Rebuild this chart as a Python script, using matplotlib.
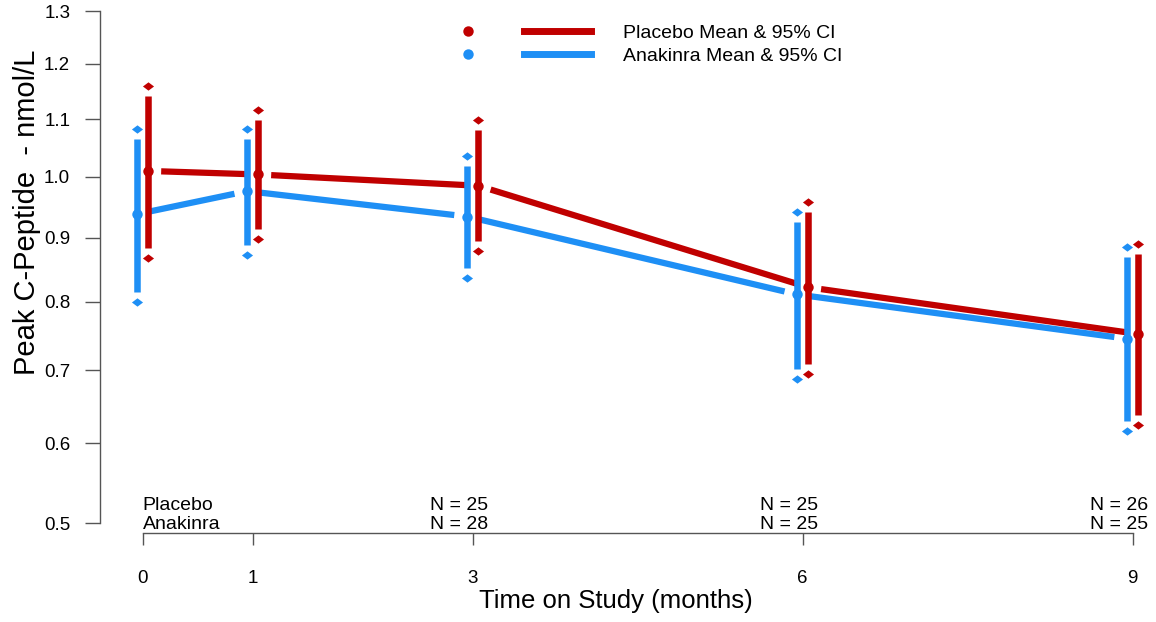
import matplotlib
matplotlib.use('Agg')
import matplotlib.pyplot as plt
import numpy as np
from matplotlib.lines import Line2D
from matplotlib.path import Path
from matplotlib.legend_handler import HandlerTuple

plt.rcParams['font.family'] = ['Liberation Sans', 'DejaVu Sans']

months        = [0, 1, 3, 6, 9]
placebo_mean  = [1.010, 1.004, 0.985, 0.822, 0.752]
placebo_lo    = [0.868, 0.898, 0.879, 0.694, 0.624]
placebo_hi    = [1.160, 1.117, 1.099, 0.958, 0.890]
anakinra_mean = [0.938, 0.976, 0.934, 0.811, 0.745]
anakinra_lo   = [0.799, 0.873, 0.837, 0.687, 0.616]
anakinra_hi   = [1.083, 1.082, 1.036, 0.942, 0.885]
placebo_n     = [None, None, 25, 25, 26]
anakinra_n    = [None, None, 28, 25, 25]
y_ticks       = [0.5, 0.6, 0.7, 0.8, 0.9, 1.0, 1.1, 1.2, 1.3]

RED  = '#C00000'
BLUE = '#1E8FF5'
OFFSET = 0.05      # months, side-by-side dodge
LINE_GAP = 13      # px gap between connecting line and mean point
BAR_GAP = 10       # px gap between CI bar end and diamond

DIAMOND = Path([(-1, 0), (0, 0.75), (1, 0), (0, -0.75), (-1, 0)],
               [Path.MOVETO, Path.LINETO, Path.LINETO, Path.LINETO, Path.CLOSEPOLY])

fig = plt.figure(figsize=(11.56, 6.22), dpi=100)
ax = fig.add_axes([100 / 1156, 1 - 533 / 622, 1050 / 1156, 525 / 622])
ax.set_yscale('function', functions=(np.sqrt, np.square))
ax.set_xlim(-0.388, 9.157)
ax.set_ylim(0.4885, 1.3058)


def to_px(x, y):
    return ax.transData.transform(np.column_stack([x, y]))


def to_data(p):
    return ax.transData.inverted().transform(p)


def draw_series(x, mean, lo, hi, color, z):
    x = np.asarray(x, float)
    pts = to_px(x, mean)
    # connecting line, broken around each point (R type = "b")
    for a, b in zip(pts[:-1], pts[1:]):
        u = (b - a) / np.hypot(*(b - a))
        seg = to_data(np.array([a + u * LINE_GAP, b - u * LINE_GAP]))
        ax.plot(seg[:, 0], seg[:, 1], color=color, lw=4.5,
                solid_capstyle='butt', zorder=z)
    # CI bars, stopping short of the diamond ends
    top_d = to_data(to_px(x, hi) + [0, -BAR_GAP])
    bot_d = to_data(to_px(x, lo) + [0, BAR_GAP])
    for xi, y0, y1 in zip(x, bot_d[:, 1], top_d[:, 1]):
        ax.plot([xi, xi], [y0, y1], color=color, lw=4.7,
                solid_capstyle='butt', zorder=z + 1)
    ax.plot(x, hi, ls='none', marker=DIAMOND, ms=8, color=color, mec='none', zorder=z + 2)
    ax.plot(x, lo, ls='none', marker=DIAMOND, ms=8, color=color, mec='none', zorder=z + 2)
    ax.plot(x, mean, ls='none', marker='o', ms=7.5, color=color, mec='none', zorder=z + 2)


draw_series(np.array(months) - OFFSET, anakinra_mean, anakinra_lo, anakinra_hi, BLUE, 2)
draw_series(np.array(months) + OFFSET, placebo_mean, placebo_lo, placebo_hi, RED, 2)

# R-style detached axes
for side in ['top', 'right']:
    ax.spines[side].set_visible(False)
ax.spines['bottom'].set_bounds(months[0], months[-1])
ax.spines['left'].set_bounds(y_ticks[0], y_ticks[-1])
for side in ['bottom', 'left']:
    ax.spines[side].set_color('#555555')
    ax.spines[side].set_linewidth(1.0)
ax.set_xticks(months)
ax.set_xticklabels([str(m) for m in months], fontsize=13.5)
ax.set_yticks(y_ticks)
ax.set_yticklabels([f'{v:.1f}' for v in y_ticks], fontsize=13.5)
ax.yaxis.set_minor_locator(matplotlib.ticker.NullLocator())
ax.tick_params(axis='x', length=8.5, width=1.0, color='#555555', pad=18)
ax.tick_params(axis='y', length=10.5, width=1.0, color='#555555', pad=11)

# sample sizes above the time axis
tr = ax.get_xaxis_transform()
ax.text(0, 0.053, 'Placebo', transform=tr, ha='left', va='center', fontsize=14)
ax.text(0, 0.017, 'Anakinra', transform=tr, ha='left', va='center', fontsize=14)
for m, npl, nan in zip(months, placebo_n, anakinra_n):
    if npl is None:
        continue
    ax.text(m + 0.14, 0.053, f'N = {npl}', transform=tr, ha='right', va='center', fontsize=14)
    ax.text(m + 0.14, 0.017, f'N = {nan}', transform=tr, ha='right', va='center', fontsize=14)

fig.text(616 / 1156, 1 - 601 / 622, 'Time on Study (months)', ha='center', va='center', fontsize=18.5)
fig.text(27 / 1156, 1 - 212 / 622, 'Peak C-Peptide  - nmol/L', ha='center', va='center',
         rotation=90, fontsize=21)

handles = [
    (Line2D([], [], ls='none', marker='o', ms=7.5, color=RED, mec='none'),
     Line2D([], [], lw=5, color=RED)),
    (Line2D([], [], ls='none', marker='o', ms=7.5, color=BLUE, mec='none'),
     Line2D([], [], lw=5, color=BLUE)),
]
fig.legend(handles, ['Placebo Mean & 95% CI', 'Anakinra Mean & 95% CI'],
           handler_map={tuple: HandlerTuple(ndivide=None, pad=1.16)},
           loc='upper left', bbox_to_anchor=(434 / 1156, 1 - 24 / 622),
           frameon=False, fontsize=14, handlelength=8.07, handletextpad=1.65,
           labelspacing=0.3, borderpad=0, borderaxespad=0)

fig.savefig('out.png', dpi=100)
